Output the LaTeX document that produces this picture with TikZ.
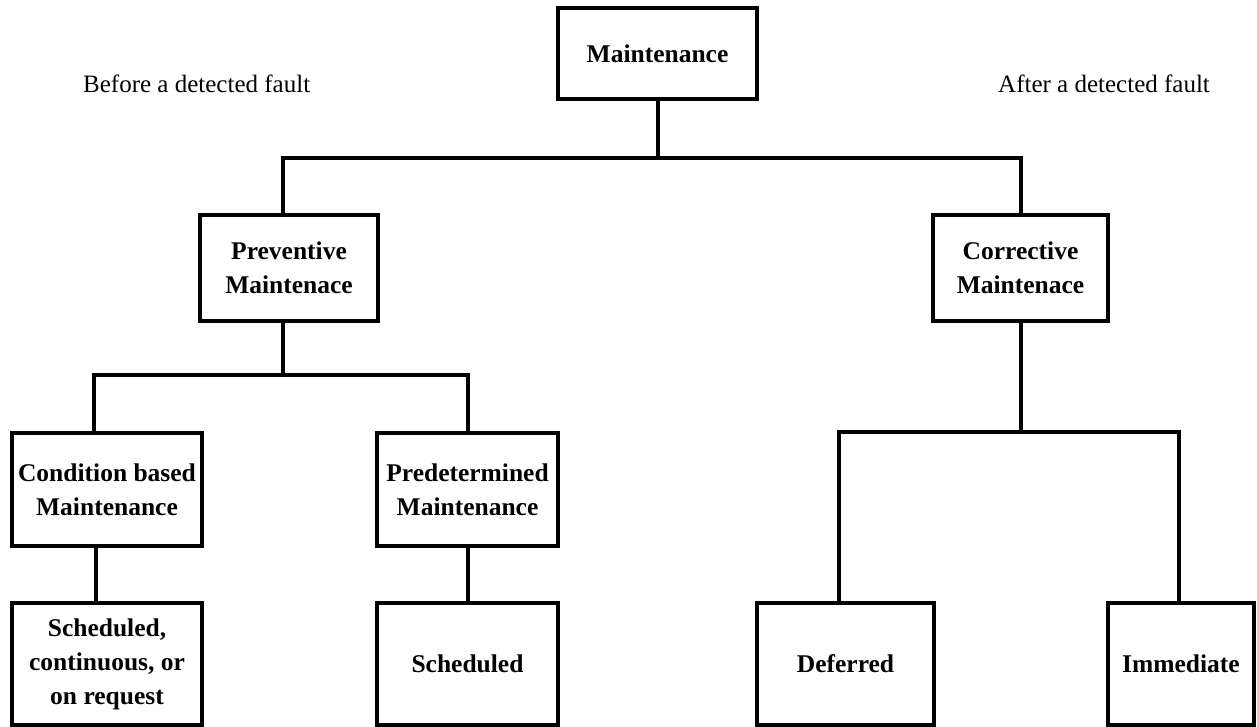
\documentclass[tikz,border=0pt]{standalone}
\usepackage{fontspec}
\setmainfont{Liberation Serif}
\begin{document}
\begin{tikzpicture}[x=1pt,y=-1pt,
  box/.style={draw=black,line width=4pt,inner sep=0pt,outer sep=0pt,align=center,
    font=\fontsize{25.5}{34}\selectfont\bfseries},
  conn/.style={draw=black,line width=4pt,line join=miter},
  side/.style={font=\fontsize{25}{30}\selectfont,inner sep=0pt,anchor=base west}]
\useasboundingbox (0,0) rectangle (1257,727);
\fill[white] (0,0) rectangle (1257,727);
% boxes
\node[box,minimum width=199pt,minimum height=91pt] (m) at (657.5,53.5) {Maintenance};
\node[box,minimum width=178pt,minimum height=106pt] (prev) at (289,268) {Preventive\\Maintenace};
\node[box,minimum width=175pt,minimum height=106pt] (corr) at (1020.5,268) {Corrective\\Maintenace};
\node[box,minimum width=190pt,minimum height=113pt] (cond) at (107,489.5) {Condition based\\Maintenance};
\node[box,minimum width=181pt,minimum height=113pt] (pred) at (467.5,489.5) {Predetermined\\Maintenance};
\node[box,minimum width=190pt,minimum height=122pt] (s1) at (107,664) {Scheduled,\\continuous, or\\on request};
\node[box,minimum width=181pt,minimum height=122pt] (s2) at (467.5,664) {Scheduled};
\node[box,minimum width=177pt,minimum height=122pt] (def) at (845.5,664) {Deferred};
\node[box,minimum width=146pt,minimum height=122pt] (imm) at (1181,664) {Immediate};
% side labels
\node[side] (before) at (83,93) {Before a detected fault};
\node[side] (after) at (998,93) {After a detected fault};
% connectors
\draw[conn] (m.south) -- ++(0,59) coordinate (j0);
\draw[conn] ([xshift=-6pt]prev.north) |- (j0) -| (corr.north);
\draw[conn] ([xshift=-6pt]prev.south) -- ++(0,54) coordinate (j1);
\draw[conn] ([xshift=-13pt]cond.north) |- (j1) -| (pred.north);
\draw[conn] ([xshift=-11pt]cond.south) -- ([xshift=-11pt]s1.north);
\draw[conn] (pred.south) -- (s2.north);
\draw[conn] (corr.south) -- ++(0,111) coordinate (j2);
\draw[conn] ([xshift=-7pt]def.north) |- (j2) -| ([xshift=-2pt]imm.north);
\end{tikzpicture}
\end{document}
